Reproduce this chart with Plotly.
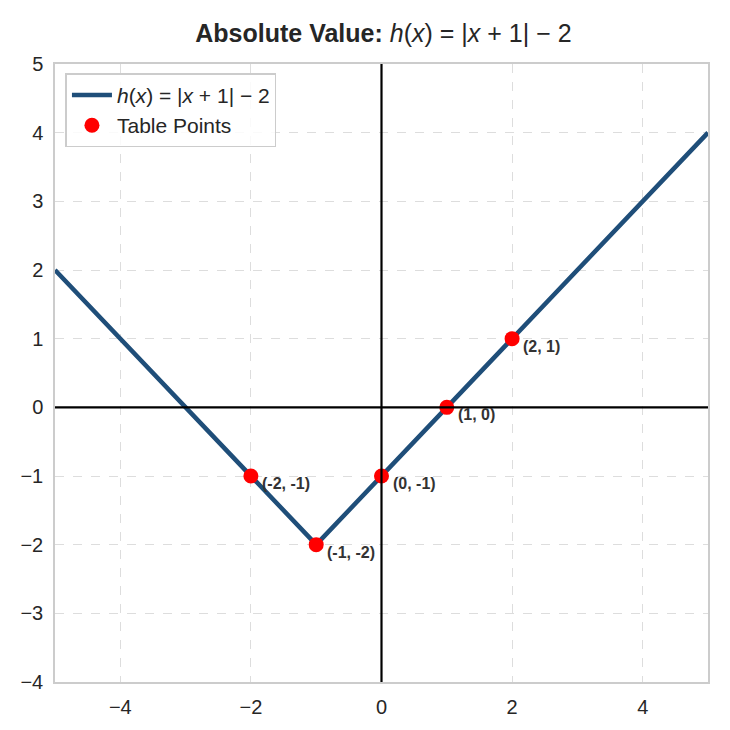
import plotly.graph_objects as go

# line vertices
line_x = [-5, -1, 5]
line_y = [2, -2, 4]

# table points
pts_x = [-2, -1, 0, 1, 2]
pts_y = [-1, -2, -1, 0, 1]
pt_labels = ["(-2, -1)", "(-1, -2)", "(0, -1)", "(1, 0)", "(2, 1)"]

x_ticks = [-4, -2, 0, 2, 4]
y_ticks = [-4, -3, -2, -1, 0, 1, 2, 3, 4, 5]

fig = go.Figure()
fig.add_trace(go.Scatter(
    x=line_x, y=line_y, mode="lines",
    name="<i>h</i>(<i>x</i>) = |<i>x</i> + 1| − 2",
    line=dict(color="#1f4e79", width=4.5),
))
fig.add_trace(go.Scatter(
    x=pts_x, y=pts_y, mode="markers", name="Table Points",
    marker=dict(color="#ff0000", size=15, line=dict(width=0)),
))

for x, y, t in zip(pts_x, pts_y, pt_labels):
    fig.add_annotation(
        x=x, y=y, text="<b>" + t + "</b>", showarrow=False,
        xanchor="left", yanchor="top", xshift=9, yshift=3,
        font=dict(size=16, color="#333333"),
    )

# axes through origin
fig.add_shape(type="line", x0=-5, x1=5, y0=0, y1=0, line=dict(color="black", width=2.2), layer="above")
fig.add_shape(type="line", x0=0, x1=0, y0=-4, y1=5, line=dict(color="black", width=2.2), layer="above")

fig.update_layout(
    width=722, height=722,
    margin=dict(l=44, r=22, t=56, b=48),
    paper_bgcolor="white", plot_bgcolor="white",
    font=dict(family="Liberation Sans, Arial, sans-serif", size=20, color="#262626"),
    title=dict(
        text="<b>Absolute Value:</b> <i>h</i>(<i>x</i>) = |<i>x</i> + 1| − 2",
        x=0.52, xanchor="center", y=0.965, yanchor="middle",
        font=dict(size=25, color="#262626"),
    ),
    showlegend=True,
    legend=dict(
        x=0.016, y=0.985, xanchor="left", yanchor="top",
        bgcolor="rgba(255,255,255,0.85)", bordercolor="#cccccc", borderwidth=1.5,
        font=dict(size=21, color="#262626"),
        itemwidth=40,
    ),
)
fig.update_xaxes(
    range=[-5, 5], tickvals=x_ticks, ticktext=["−4", "−2", "0", "2", "4"],
    showgrid=True, gridcolor="#dddddd", griddash="dash", gridwidth=1.2,
    zeroline=False, showline=True, linecolor="#cccccc", linewidth=1.5, mirror=True,
    ticks="", ticklabelstandoff=6,
)
fig.update_yaxes(
    range=[-4, 5], tickvals=y_ticks,
    ticktext=[str(v).replace("-", "−") for v in y_ticks],
    showgrid=True, gridcolor="#dddddd", griddash="dash", gridwidth=1.2,
    zeroline=False, showline=True, linecolor="#cccccc", linewidth=1.5, mirror=True,
    ticks="", ticklabelstandoff=6,
)

fig.write_html("out.html")
